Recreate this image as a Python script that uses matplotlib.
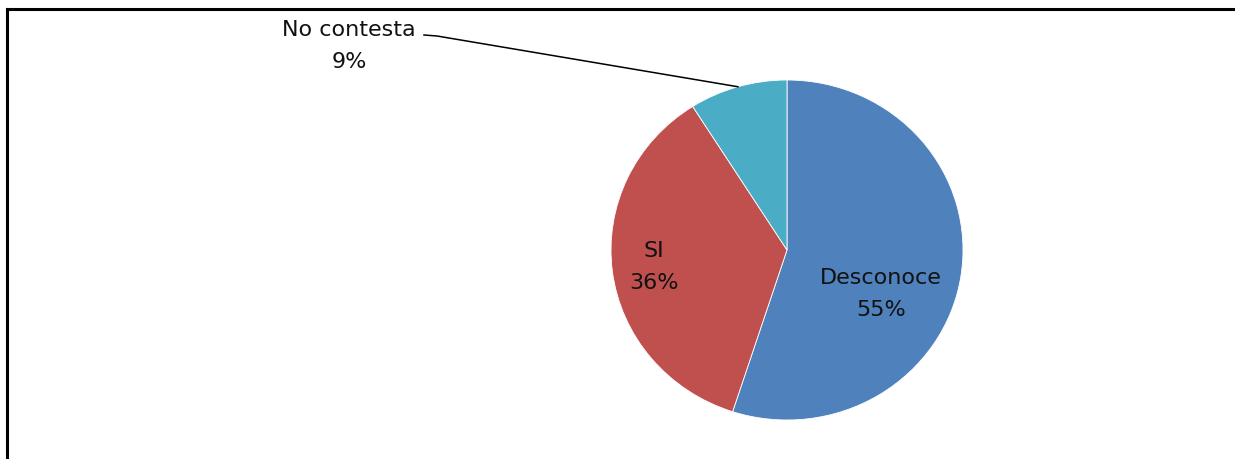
import numpy as np
import matplotlib
matplotlib.use("Agg")
import matplotlib.pyplot as plt
from matplotlib.lines import Line2D

labels = ["Desconoce", "SI", "No contesta"]
values = [55, 36, 9]
colors = ["#4F81BD", "#C0504D", "#4BACC6"]

W, H = 1235, 459
cx, cy, rx, ry = 787, 250, 176, 170

fig = plt.figure(figsize=(W / 100, H / 100), dpi=100)
ax = fig.add_axes([0, 0, 1, 1])

wedges, _ = ax.pie(values, colors=colors, startangle=90, counterclock=False,
                   wedgeprops=dict(edgecolor="white", linewidth=0.6))

# map pixel layout onto data coords (radius 1 = rx px horizontally, ry px vertically)
ax.set_aspect("auto")
ax.set_xlim(-cx / rx, (W - cx) / rx)
ax.set_ylim((cy - H) / ry, cy / ry)
ax.axis("off")


def px(x, y):
    return (x - cx) / rx, (cy - y) / ry


pcts = [f"{v}%" for v in values]
label_pos = [px(881, 294), px(654, 267), px(349, 46)]
for lab, pct, (x, y) in zip(labels, pcts, label_pos):
    ax.text(x, y, f"{lab}\n{pct}", ha="center", va="center", fontsize=16,
            family="DejaVu Sans", color="#111111", linespacing=1.78)

# leader line for the small slice
w = wedges[2]
mid = np.deg2rad((w.theta1 + w.theta2) / 2)
ex, ey = np.cos(mid), np.sin(mid)
p0 = px(424, 35)
p1 = px(437, 36)
ax.plot([p0[0], p1[0], ex], [p0[1], p1[1], ey], color="black", lw=1.1)

# outer frame (top and left only visible)
fig.add_artist(Line2D([6.5 / W, 1], [1 - 8.5 / H, 1 - 8.5 / H], color="black", lw=2.2,
                      transform=fig.transFigure))
fig.add_artist(Line2D([6.5 / W, 6.5 / W], [0, 1 - 8.5 / H], color="black", lw=2.2,
                      transform=fig.transFigure))

fig.savefig("out.png", dpi=100)
